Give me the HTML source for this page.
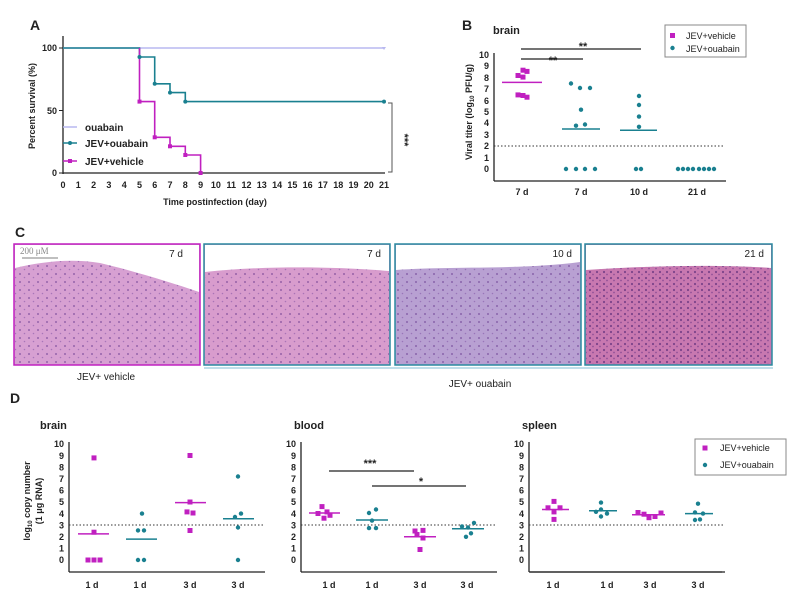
<!DOCTYPE html><html><head><meta charset="utf-8"><style>body{margin:0;background:#fff}svg{display:block;font-family:"Liberation Sans",Arial,sans-serif}</style></head><body>
<svg width="792" height="592" viewBox="0 0 792 592" xmlns="http://www.w3.org/2000/svg">
<defs>
<pattern id="cells" width="9" height="8" patternUnits="userSpaceOnUse"><circle cx="2" cy="2" r="1" fill="#6a3a90" opacity=".6"/><circle cx="6.5" cy="5.5" r=".8" fill="#7a4aa0" opacity=".5"/></pattern>
<pattern id="cells2" width="7" height="6" patternUnits="userSpaceOnUse"><circle cx="2" cy="2" r="1.1" fill="#4a2070" opacity=".6"/><circle cx="5" cy="4.5" r=".9" fill="#5a2a80" opacity=".5"/></pattern>
</defs>
<g font-weight="bold" font-size="9" fill="#222">
<!-- Panel A -->
<text x="30" y="30" font-size="14">A</text>
<line x1="63" y1="36" x2="63" y2="174" stroke="#222" stroke-width="1.3"/>
<line x1="63" y1="173" x2="385" y2="173" stroke="#222" stroke-width="1.3"/>
<g stroke="#222"><line x1="59" y1="48" x2="63" y2="48"/><line x1="59" y1="110.5" x2="63" y2="110.5"/><line x1="59" y1="173" x2="63" y2="173"/></g>
<g text-anchor="end"><text x="57" y="51">100</text><text x="57" y="114">50</text><text x="57" y="176">0</text></g>
<g text-anchor="middle">
<text x="63" y="188">0</text><text x="78.3" y="188">1</text><text x="93.6" y="188">2</text><text x="108.9" y="188">3</text><text x="124.2" y="188">4</text><text x="139.5" y="188">5</text><text x="154.7" y="188">6</text><text x="170" y="188">7</text><text x="185.3" y="188">8</text><text x="200.6" y="188">9</text><text x="215.9" y="188">10</text><text x="231.2" y="188">11</text><text x="246.5" y="188">12</text><text x="261.8" y="188">13</text><text x="277.1" y="188">14</text><text x="292.4" y="188">15</text><text x="307.6" y="188">16</text><text x="322.9" y="188">17</text><text x="338.2" y="188">18</text><text x="353.5" y="188">19</text><text x="368.8" y="188">20</text><text x="384" y="188">21</text>
<text x="215" y="205">Time postinfection (day)</text>
</g>
<text transform="translate(35,106) rotate(-90)" text-anchor="middle">Percent survival (%)</text>
<polyline points="63,48 384,48" fill="none" stroke="#b8b8f0" stroke-width="1.5"/>
<polyline points="63,48 139.5,48 139.5,57 154.7,57 154.7,83.8 170,83.8 170,92.6 185.3,92.6 185.3,101.6 384,101.6" fill="none" stroke="#1a8090" stroke-width="1.6"/>
<polyline points="139.5,48 139.5,101.6 154.7,101.6 154.7,137.3 170,137.3 170,146.3 185.3,146.3 185.3,155 200.6,155 200.6,173" fill="none" stroke="#c020c0" stroke-width="1.6"/>
<g fill="#1a8090"><circle cx="139.5" cy="57" r="2"/><circle cx="154.7" cy="83.8" r="2"/><circle cx="170" cy="92.6" r="2"/><circle cx="185.3" cy="101.6" r="2"/><circle cx="384" cy="101.6" r="2"/></g>
<g fill="#c020c0"><rect x="137.5" y="99.6" width="4" height="4"/><rect x="152.7" y="135.3" width="4" height="4"/><rect x="168" y="144.3" width="4" height="4"/><rect x="183.3" y="153" width="4" height="4"/><rect x="198.6" y="171" width="4" height="4"/></g>
<path d="M382,47 l2,3 l2,-3z" fill="#b8b8f0"/>
<line x1="63" y1="127" x2="77" y2="127" stroke="#b8b8f0" stroke-width="1.5"/>
<line x1="63" y1="143" x2="77" y2="143" stroke="#1a8090" stroke-width="1.5"/><circle cx="70" cy="143" r="2" fill="#1a8090"/>
<line x1="63" y1="161" x2="77" y2="161" stroke="#c020c0" stroke-width="1.5"/><rect x="68" y="159" width="4" height="4" fill="#c020c0"/>
<text x="85" y="131" font-size="10">ouabain</text><text x="85" y="147" font-size="10">JEV+ouabain</text><text x="85" y="165" font-size="10">JEV+vehicle</text>
<polyline points="388,103 392,103 392,172 388,172" fill="none" stroke="#555" stroke-width="1"/>
<text transform="translate(401,140) rotate(90)" text-anchor="middle" font-size="11">***</text>

<!-- Panel B -->
<text x="462" y="30" font-size="14">B</text>
<text x="493" y="34" font-size="11">brain</text>
<line x1="494" y1="53" x2="494" y2="181" stroke="#222" stroke-width="1.3"/>
<line x1="494" y1="181" x2="726" y2="181" stroke="#222" stroke-width="1.3"/>
<g text-anchor="end">
<text x="489" y="172">0</text><text x="489" y="161">1</text><text x="489" y="149">2</text><text x="489" y="138">3</text><text x="489" y="126">4</text><text x="489" y="115">5</text><text x="489" y="104">6</text><text x="489" y="92">7</text><text x="489" y="81">8</text><text x="489" y="69">9</text><text x="489" y="58">10</text></g>
<g text-anchor="middle"><text x="522" y="195">7 d</text><text x="581" y="195">7 d</text><text x="639" y="195">10 d</text><text x="697" y="195">21 d</text></g>
<text transform="translate(472,112) rotate(-90)" text-anchor="middle">Viral titer (log<tspan font-size="6" dy="2">10</tspan><tspan dy="-2"> PFU/g)</tspan></text>
<line x1="494" y1="146" x2="725" y2="146" stroke="#333" stroke-dasharray="1.5,2"/>
<line x1="521" y1="49" x2="641" y2="49" stroke="#222" stroke-width="1.2"/><text x="583" y="50" text-anchor="middle" font-size="11">**</text>
<line x1="521" y1="59" x2="583" y2="59" stroke="#222" stroke-width="1.2"/><text x="553" y="64" text-anchor="middle" font-size="11">**</text>
<line x1="502" y1="82.4" x2="542" y2="82.4" stroke="#c020c0" stroke-width="1.5"/>
<g fill="#c020c0"><rect x="515.5" y="73" width="5" height="5"/><rect x="520.5" y="67.7" width="5" height="5"/><rect x="524.5" y="68.9" width="5" height="5"/><rect x="520.5" y="74.6" width="5" height="5"/><rect x="515.5" y="92.4" width="5" height="5"/><rect x="520.5" y="93" width="5" height="5"/><rect x="524.5" y="94.7" width="5" height="5"/></g>
<g stroke="#1a8090" stroke-width="1.5"><line x1="562" y1="129" x2="600" y2="129"/><line x1="620" y1="130.2" x2="657" y2="130.2"/></g>
<g fill="#1a8090">
<circle cx="571" cy="83.5" r="2.2"/><circle cx="580" cy="88" r="2.2"/><circle cx="590" cy="88" r="2.2"/><circle cx="581" cy="109.7" r="2.2"/><circle cx="576" cy="125.7" r="2.2"/><circle cx="585" cy="124.5" r="2.2"/>
<circle cx="566" cy="169" r="2.2"/><circle cx="576" cy="169" r="2.2"/><circle cx="585" cy="169" r="2.2"/><circle cx="595" cy="169" r="2.2"/>
<circle cx="639" cy="96" r="2.2"/><circle cx="639" cy="105" r="2.2"/><circle cx="639" cy="116.6" r="2.2"/><circle cx="639" cy="126.8" r="2.2"/><circle cx="636" cy="169" r="2.2"/><circle cx="641" cy="169" r="2.2"/>
<circle cx="678" cy="169" r="2.2"/><circle cx="683" cy="169" r="2.2"/><circle cx="688" cy="169" r="2.2"/><circle cx="693" cy="169" r="2.2"/><circle cx="699" cy="169" r="2.2"/><circle cx="704" cy="169" r="2.2"/><circle cx="709" cy="169" r="2.2"/><circle cx="714" cy="169" r="2.2"/></g>
<rect x="665" y="25" width="81" height="32" fill="#fff" stroke="#888"/>
<rect x="670" y="33" width="5" height="5" fill="#c020c0"/><circle cx="672.5" cy="48" r="2.2" fill="#1a8090"/>
<text x="686" y="39" font-weight="normal">JEV+vehicle</text><text x="686" y="52" font-weight="normal">JEV+ouabain</text>

<!-- Panel C -->
<text x="15" y="237" font-size="14">C</text>
<rect x="14" y="244" width="186" height="121" fill="#d7a0d2" stroke="#c020c0" stroke-width="1.5"/>
<rect x="15" y="245" width="184" height="119" fill="url(#cells)"/>
<path d="M15,245 H199 V292 C170,282 130,270 100,263 C70,258 40,262 15,268Z" fill="#fff"/>
<line x1="22" y1="258" x2="58" y2="258" stroke="#999" stroke-width="1.2"/>
<text x="20" y="254" font-size="9" font-weight="normal" fill="#888" font-family="Liberation Serif,serif">200 μM</text>
<text x="183" y="257" font-size="10" font-weight="normal" text-anchor="end">7 d</text>
<rect x="204" y="244" width="186" height="121" fill="#d89ccd" stroke="#2a8aa0" stroke-width="1.5"/>
<rect x="205" y="245" width="184" height="119" fill="url(#cells)"/>
<path d="M205,245 H389 V271 C330,266 260,266 205,272Z" fill="#fff"/>
<text x="381" y="257" font-size="10" font-weight="normal" text-anchor="end">7 d</text>
<rect x="395" y="244" width="186" height="121" fill="#b8a0d2" stroke="#2a8aa0" stroke-width="1.5"/>
<rect x="396" y="245" width="184" height="119" fill="url(#cells)"/>
<path d="M396,245 H580 V262 C520,270 450,266 396,270Z" fill="#fff"/>
<text x="572" y="257" font-size="10" font-weight="normal" text-anchor="end">10 d</text>
<rect x="585" y="244" width="187" height="121" fill="#c878b0" stroke="#2a8aa0" stroke-width="1.5"/>
<rect x="586" y="245" width="185" height="119" fill="url(#cells2)"/>
<path d="M586,245 H771 V268 C720,264 640,266 586,270Z" fill="#fff"/>
<text x="764" y="257" font-size="10" font-weight="normal" text-anchor="end">21 d</text>
<line x1="204" y1="368" x2="773" y2="368" stroke="#aad4e4" stroke-width="1.5"/>
<text x="106" y="380" font-size="10" font-weight="normal" text-anchor="middle">JEV+ vehicle</text>
<text x="480" y="387" font-size="10" font-weight="normal" text-anchor="middle">JEV+ ouabain</text>

<!-- Panel D -->
<text x="10" y="403" font-size="14">D</text>
<text x="40" y="429" font-size="11">brain</text><text x="294" y="429" font-size="11">blood</text><text x="522" y="429" font-size="11">spleen</text>
<text transform="translate(30,501) rotate(-90)" text-anchor="middle">log<tspan font-size="6" dy="2">10</tspan><tspan dy="-2"> copy number</tspan></text>
<text transform="translate(42,501) rotate(-90)" text-anchor="middle">(1 μg RNA)</text>
<g id="axD">
<line x1="69" y1="442" x2="69" y2="572" stroke="#222" stroke-width="1.3"/><line x1="69" y1="572" x2="265" y2="572" stroke="#222" stroke-width="1.3"/>
<g text-anchor="end"><text x="64" y="563">0</text><text x="64" y="551.6">1</text><text x="64" y="540">2</text><text x="64" y="528.4">3</text><text x="64" y="516.8">4</text><text x="64" y="505.2">5</text><text x="64" y="493.6">6</text><text x="64" y="482">7</text><text x="64" y="470.4">8</text><text x="64" y="458.8">9</text><text x="64" y="447.2">10</text></g>
<line x1="69" y1="525" x2="265" y2="525" stroke="#333" stroke-dasharray="1.5,2"/>
</g>
<use href="#axD" x="232"/><use href="#axD" x="460"/>
<line x1="530" y1="572" x2="722" y2="572" stroke="#222" stroke-width="1.3"/>
<g text-anchor="middle"><text x="92" y="588">1 d</text><text x="140" y="588">1 d</text><text x="190" y="588">3 d</text><text x="238" y="588">3 d</text>
<text x="329" y="588">1 d</text><text x="372" y="588">1 d</text><text x="420" y="588">3 d</text><text x="467" y="588">3 d</text>
<text x="553" y="588">1 d</text><text x="607" y="588">1 d</text><text x="650" y="588">3 d</text><text x="698" y="588">3 d</text></g>
<line x1="329" y1="471" x2="414" y2="471" stroke="#222" stroke-width="1.2"/><text x="370" y="467" text-anchor="middle" font-size="11">***</text>
<line x1="372" y1="486" x2="466" y2="486" stroke="#222" stroke-width="1.2"/><text x="421" y="485" text-anchor="middle" font-size="11">*</text>
<g stroke-width="1.5">
<g stroke="#c020c0"><line x1="78" y1="533.9" x2="109" y2="533.9"/><line x1="175" y1="502.6" x2="206" y2="502.6"/><line x1="309" y1="513" x2="340" y2="513"/><line x1="404" y1="536.8" x2="436" y2="536.8"/><line x1="542" y1="509.5" x2="569" y2="509.5"/><line x1="632" y1="514.8" x2="665" y2="514.8"/></g>
<g stroke="#1a8090"><line x1="126" y1="539.1" x2="157" y2="539.1"/><line x1="223" y1="518.8" x2="254" y2="518.8"/><line x1="356" y1="520" x2="388" y2="520"/><line x1="452" y1="528.7" x2="484" y2="528.7"/><line x1="589" y1="510.7" x2="617" y2="510.7"/><line x1="685" y1="513.6" x2="713" y2="513.6"/></g>
</g>
<g fill="#c020c0">
<rect x="91.5" y="455.4" width="5" height="5"/><rect x="91.5" y="529.7" width="5" height="5"/><rect x="85.5" y="557.5" width="5" height="5"/><rect x="91.5" y="557.5" width="5" height="5"/><rect x="97.5" y="557.5" width="5" height="5"/>
<rect x="187.5" y="453" width="5" height="5"/><rect x="187.5" y="499.5" width="5" height="5"/><rect x="184.5" y="509.4" width="5" height="5"/><rect x="190.5" y="510.5" width="5" height="5"/><rect x="187.5" y="528" width="5" height="5"/>
<rect x="319.5" y="504.1" width="5" height="5"/><rect x="315.5" y="511" width="5" height="5"/><rect x="324.5" y="509.4" width="5" height="5"/><rect x="321.5" y="515.7" width="5" height="5"/><rect x="327.5" y="512.8" width="5" height="5"/>
<rect x="412.5" y="528.5" width="5" height="5"/><rect x="420.5" y="527.9" width="5" height="5"/><rect x="414.5" y="532" width="5" height="5"/><rect x="420.5" y="535.5" width="5" height="5"/><rect x="417.5" y="547" width="5" height="5"/>
<rect x="551.5" y="498.9" width="5" height="5"/><rect x="545.5" y="505.3" width="5" height="5"/><rect x="551.5" y="509.4" width="5" height="5"/><rect x="557.5" y="505.3" width="5" height="5"/><rect x="551.5" y="516.9" width="5" height="5"/>
<rect x="635.5" y="510" width="5" height="5"/><rect x="641.5" y="511.7" width="5" height="5"/><rect x="646.5" y="515.2" width="5" height="5"/><rect x="652.5" y="514" width="5" height="5"/><rect x="658.5" y="510.5" width="5" height="5"/></g>
<g fill="#1a8090">
<circle cx="142" cy="513.6" r="2.2"/><circle cx="138" cy="530.4" r="2.2"/><circle cx="144" cy="530.4" r="2.2"/><circle cx="138" cy="560" r="2.2"/><circle cx="144" cy="560" r="2.2"/>
<circle cx="238" cy="476.5" r="2.2"/><circle cx="235" cy="517" r="2.2"/><circle cx="241" cy="513.6" r="2.2"/><circle cx="238" cy="527.5" r="2.2"/><circle cx="238" cy="560" r="2.2"/>
<circle cx="369" cy="513" r="2.2"/><circle cx="376" cy="509.5" r="2.2"/><circle cx="372" cy="520.6" r="2.2"/><circle cx="369" cy="528.1" r="2.2"/><circle cx="376" cy="528.1" r="2.2"/>
<circle cx="462" cy="526.4" r="2.2"/><circle cx="474" cy="522.9" r="2.2"/><circle cx="468" cy="527.5" r="2.2"/><circle cx="466" cy="536.8" r="2.2"/><circle cx="471" cy="533.3" r="2.2"/>
<circle cx="601" cy="502.6" r="2.2"/><circle cx="601" cy="509.5" r="2.2"/><circle cx="596" cy="511.8" r="2.2"/><circle cx="607" cy="513.6" r="2.2"/><circle cx="601" cy="516.5" r="2.2"/>
<circle cx="698" cy="503.7" r="2.2"/><circle cx="695" cy="512.4" r="2.2"/><circle cx="703" cy="513.6" r="2.2"/><circle cx="695" cy="520" r="2.2"/><circle cx="700" cy="519.4" r="2.2"/></g>
<rect x="695" y="439" width="91" height="36" fill="#fff" stroke="#888"/>
<rect x="702.5" y="445.5" width="5" height="5" fill="#c020c0"/><circle cx="705" cy="465" r="2.2" fill="#1a8090"/>
<text x="720" y="451" font-weight="normal">JEV+vehicle</text><text x="720" y="468" font-weight="normal">JEV+ouabain</text>
</g>
</svg>
</body></html>
